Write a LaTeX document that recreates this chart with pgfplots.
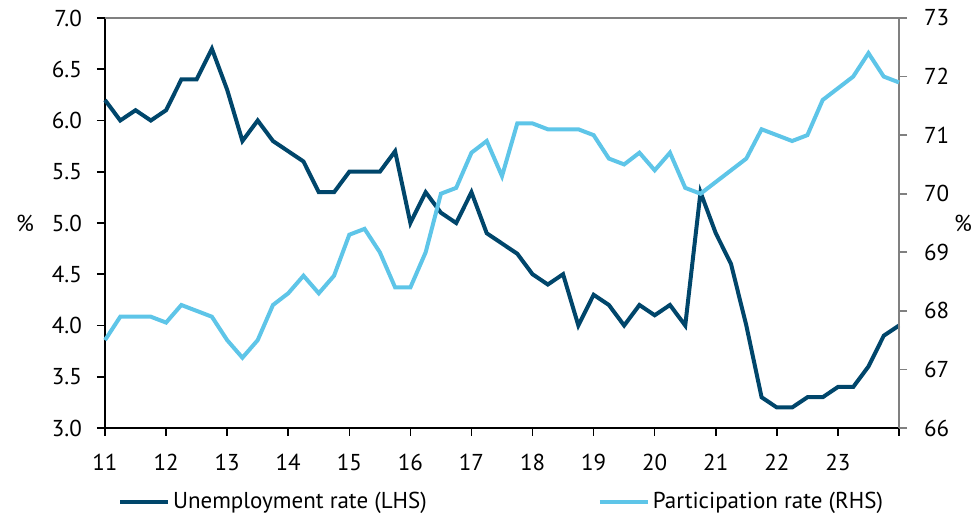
\documentclass[border=0pt]{standalone}
\usepackage{pgfplots}
\pgfplotsset{compat=1.18}
\usepackage{fontspec}
\setmainfont{PT Sans}

\definecolor{navy}{RGB}{0,70,107}
\definecolor{sky}{RGB}{94,197,232}
\definecolor{framegray}{RGB}{128,128,128}

% quarterly, 2011Q1 - 2024Q1
\pgfplotstableread{
x     unemp  part
11.00 6.2 67.5
11.25 6.0 67.9
11.50 6.1 67.9
11.75 6.0 67.9
12.00 6.1 67.8
12.25 6.4 68.1
12.50 6.4 68.0
12.75 6.7 67.9
13.00 6.3 67.5
13.25 5.8 67.2
13.50 6.0 67.5
13.75 5.8 68.1
14.00 5.7 68.3
14.25 5.6 68.6
14.50 5.3 68.3
14.75 5.3 68.6
15.00 5.5 69.3
15.25 5.5 69.4
15.50 5.5 69.0
15.75 5.7 68.4
16.00 5.0 68.4
16.25 5.3 69.0
16.50 5.1 70.0
16.75 5.0 70.1
17.00 5.3 70.7
17.25 4.9 70.9
17.50 4.8 70.3
17.75 4.7 71.2
18.00 4.5 71.2
18.25 4.4 71.1
18.50 4.5 71.1
18.75 4.0 71.1
19.00 4.3 71.0
19.25 4.2 70.6
19.50 4.0 70.5
19.75 4.2 70.7
20.00 4.1 70.4
20.25 4.2 70.7
20.50 4.0 70.1
20.75 5.3 70.0
21.00 4.9 70.2
21.25 4.6 70.4
21.50 4.0 70.6
21.75 3.3 71.1
22.00 3.2 71.0
22.25 3.2 70.9
22.50 3.3 71.0
22.75 3.3 71.6
23.00 3.4 71.8
23.25 3.4 72.0
23.50 3.6 72.4
23.75 3.9 72.0
24.00 4.0 71.9
}\labour

\newcommand{\chartfont}{\fontsize{11.5}{13}\selectfont}

\pgfplotsset{
  base/.style={
    scale only axis, width=397pt, height=205pt,
    at={(0,0)}, anchor=south west,
    xmin=11, xmax=24, clip=false,
    tick align=outside, major tick length=4pt,
    /pgf/number format/assume math mode=true,
    tick label style={font=\chartfont},
  },
}

\begin{document}
\begin{tikzpicture}
\begin{axis}[base,
    axis x line*=bottom, axis y line*=left,
    axis line style={black, line width=0.8pt},
    tick style={black, line width=0.8pt},
    ymin=3, ymax=7, ytick={3,3.5,...,7},
    yticklabel style={xshift=-4pt, /pgf/number format/.cd, fixed, fixed zerofill, precision=1},
    xticklabel style={yshift=-5.5pt},
    xtick={11,...,24},
    xticklabels={11,12,13,14,15,16,17,18,19,20,21,22,23,{}},
  ]
  \addplot[navy, line width=2pt] table[x=x, y=unemp] {\labour};
  \node[font=\chartfont] at (rel axis cs:0,0.5) [xshift=-40pt] {\%};
\end{axis}
\begin{axis}[base,
    axis x line*=top, axis y line*=right,
    axis line style={framegray, line width=0.8pt},
    ytick style={framegray, line width=0.8pt},
    yticklabel style={xshift=5pt},
    xtick=\empty,
    ymin=66, ymax=73, ytick={66,...,73},
    legend columns=2,
    legend style={at={(0.5,0)}, anchor=center, yshift=-37pt, draw=none,
      font=\chartfont,
      nodes={inner sep=1.5pt},
      /tikz/every even column/.append style={column sep=84pt}},
    legend cell align=left,
    legend image code/.code={\draw[#1] (0pt,0pt) -- (24pt,0pt);},
  ]
  \addlegendimage{navy, line width=2pt}
  \addlegendentry{Unemployment rate (LHS)}
  \addplot[sky, line width=2pt] table[x=x, y=part] {\labour};
  \addlegendentry{Participation rate (RHS)}
  \node[font=\chartfont] at (rel axis cs:1,0.5) [xshift=32pt] {\%};
\end{axis}
\pgfresetboundingbox
\path[use as bounding box] (-52.5pt,-45pt) rectangle (436.5pt,214pt);
\end{tikzpicture}
\end{document}
